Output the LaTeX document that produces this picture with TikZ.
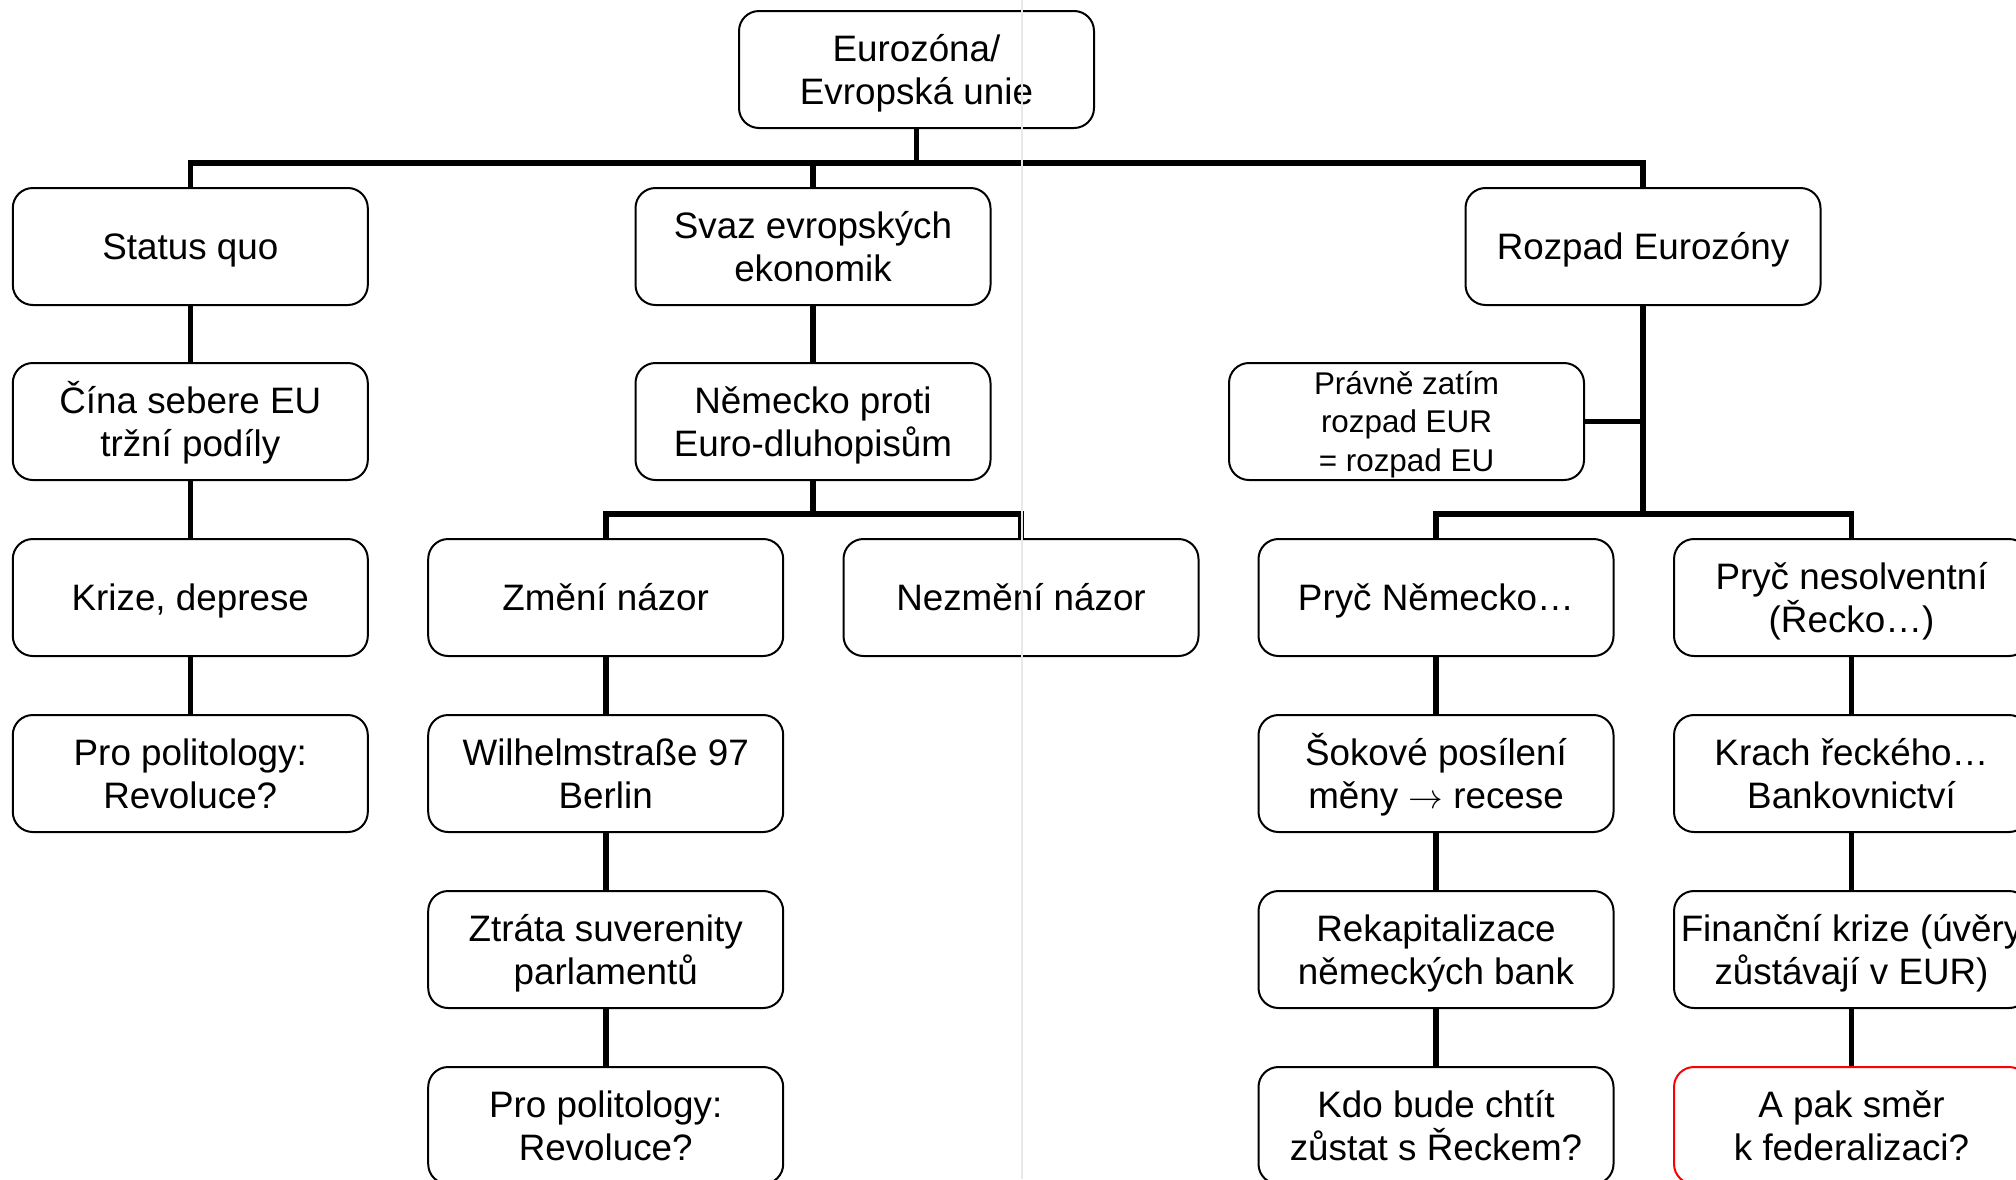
\documentclass[tikz,border=0pt]{standalone}
\usepackage{fontspec}
\setmainfont{Liberation Sans}
\begin{document}
\begin{tikzpicture}[x=0.5pt,y=-0.5pt,
  box/.style={draw=black, line width=1pt, rounded corners=10pt, fill=white,
    minimum width=177.5pt, minimum height=58.5pt, inner sep=0pt, align=center,
    font=\fontsize{18.4}{21.4}\selectfont, text height=16.2pt, text depth=3pt},
  boxtwo/.style={box, text height=37.6pt},
  smallbox/.style={box, font=\fontsize{15.7}{19.2}\selectfont,
    text height=52.6pt, text depth=3pt},
  redbox/.style={boxtwo, draw=red},
  conn/.style={line width=2.8pt, line join=miter}]
\useasboundingbox (0,0) rectangle (2016,1179);
\clip (0,0) rectangle (2016,1179);
% bus levels
\coordinate (bus) at (0,163);
\coordinate (subA) at (0,514);
% row 0
\node[boxtwo] (root) at (916.5,69.5) {Eurozóna/\\Evropská unie};
% row 1
\node[box] (sq) at (190.3,246.5) {Status quo};
\node[boxtwo] (svaz) at (813,246.5) {Svaz evropských\\ekonomik};
\node[box] (rz) at (1643,246.5) {Rozpad Eurozóny};
% row 2
\node[boxtwo] (cina) at (190.3,421.5) {Čína sebere EU\\tržní podíly};
\node[boxtwo] (nem) at (813,421.5) {Německo proti\\Euro-dluhopisům};
\node[smallbox] (prav) at (1406.5,421.5) {Právně zatím\\rozpad EUR\\= rozpad EU};
% row 3
\node[box] (krize) at (190.3,597.5) {Krize, deprese};
\node[box] (zmeni) at (605.7,597.5) {Změní názor};
\node[box] (nezmeni) at (1021,597.5) {Nezmění názor};
\node[box] (prycn) at (1436,597.5) {Pryč Německo…};
\node[boxtwo] (prycr) at (1851.5,597.5) {Pryč nesolventní\\(Řecko…)};
% row 4
\node[boxtwo] (pol1) at (190.3,773.5) {Pro politology:\\Revoluce?};
\node[boxtwo] (wil) at (605.7,773.5) {Wilhelmstraße 97\\Berlin};
\node[boxtwo] (sok) at (1436,773.5) {Šokové posílení\\měny $\rightarrow$ recese};
\node[boxtwo] (krach) at (1851.5,773.5) {Krach řeckého…\\Bankovnictví};
% row 5
\node[boxtwo] (ztr) at (605.7,949.5) {Ztráta suverenity\\parlamentů};
\node[boxtwo] (rek) at (1436,949.5) {Rekapitalizace\\německých bank};
\node[boxtwo] (fin) at (1851.5,949.5) {Finanční krize (úvěry\\zůstávají v EUR)};
% row 6
\node[boxtwo] (pol2) at (605.7,1125.5) {Pro politology:\\Revoluce?};
\node[boxtwo] (kdo) at (1436,1125.5) {Kdo bude chtít\\zůstat s Řeckem?};
\node[redbox] (fed) at (1851.5,1125.5) {A pak směr\\k federalizaci?};
% connectors: top bus
\draw[conn] (root.south) -- (root.south |- bus);
\draw[conn] (sq.north) -- (sq.north |- bus) -- (rz.north |- bus) -- (rz.north);
\draw[conn] (svaz.north) -- (svaz.north |- bus);
% left column
\draw[conn] (sq.south) -- (cina.north);
\draw[conn] (cina.south) -- (krize.north);
\draw[conn] (krize.south) -- (pol1.north);
% middle column
\draw[conn] (svaz.south) -- (nem.north);
\draw[conn] (nem.south) -- (nem.south |- subA);
\draw[conn] (zmeni.north) -- (zmeni.north |- subA) -- (nezmeni.north |- subA) -- (nezmeni.north);
\draw[conn] (zmeni.south) -- (wil.north);
\draw[conn] (wil.south) -- (ztr.north);
\draw[conn] (ztr.south) -- (pol2.north);
% right column
\draw[conn] (rz.south) -- (rz.south |- subA);
\draw[conn] (prav.east) -- (prav.east -| rz.south);
\draw[conn] (prycn.north) -- (prycn.north |- subA) -- (prycr.north |- subA) -- (prycr.north);
\draw[conn] (prycn.south) -- (sok.north);
\draw[conn] (sok.south) -- (rek.north);
\draw[conn] (rek.south) -- (kdo.north);
\draw[conn] (prycr.south) -- (krach.north);
\draw[conn] (krach.south) -- (fin.north);
\draw[conn] (fin.south) -- (fed.north);
% faint vertical line
\draw[line width=0.75pt, color=black!9] (1022,0) -- (1022,1179);
\end{tikzpicture}
\end{document}
